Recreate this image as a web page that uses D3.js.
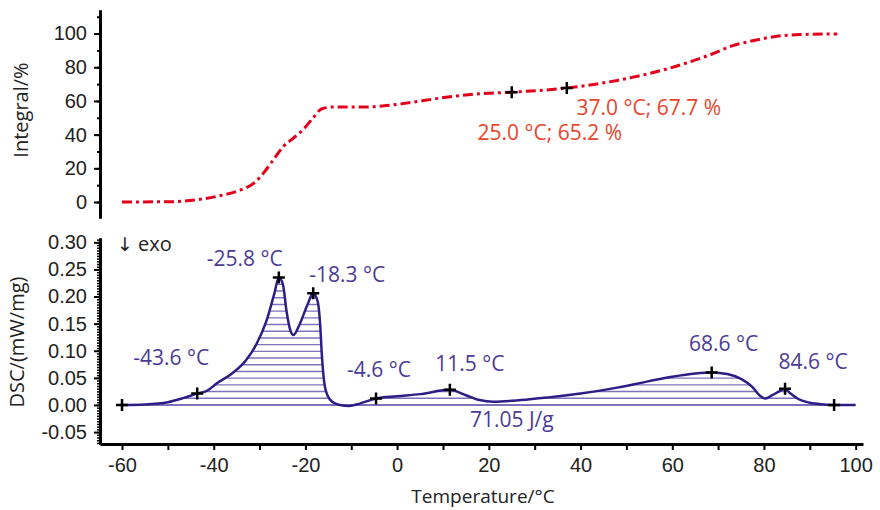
<!DOCTYPE html>
<html>
<head>
<meta charset="utf-8">
<script src="https://cdn.jsdelivr.net/npm/d3@7"></script>
<style>
  html, body { margin: 0; padding: 0; background: #fff; }
  svg { display: block; font-family: "Open Sans", "Noto Sans", sans-serif; }
</style>
</head>
<body>
<svg id="chart" width="880" height="510"></svg>
<script>
// ---------------- DATA ----------------
const intTemps = [-60, -48.8, -43, -37.9, -34.2, -31.3, -29.2, -27, -24.8, -22.6, -20.5, -18.3, -16.5, -13.9, -8, -5, 2, 9.4, 18, 25, 37, 48, 58.8, 68.3, 73.4, 77, 82.8, 88, 96];
const intValues = [0, 0.2, 1.6, 4.2, 7.1, 11.1, 17, 25, 33, 38, 43, 50, 55.2, 56.4, 56.4, 56.6, 58.7, 61.7, 64.3, 65.2, 67.7, 72.2, 79, 87.5, 93, 95.4, 98.4, 99.4, 99.8];

const dscTemps = [-60, -55, -50, -46.5, -43.6, -41.5, -39.3, -36, -33, -30.7, -28.5, -26.8, -25.8, -24.9, -24.1, -23.3, -22.6, -21.3, -19.6, -18.3, -17.3, -16.8, -16.4, -15.9, -15.1, -14, -12.5, -10.5, -8, -4.6, 0, 5, 11.5, 15, 18, 21, 27, 33, 40, 48, 55, 60, 65, 68.6, 72, 75, 77.5, 79, 80.3, 81.8, 83.5, 84.6, 85.8, 87.5, 90, 93, 95.3, 100];
const dscValues = [0, 0.001, 0.005, 0.013, 0.021, 0.026, 0.040, 0.058, 0.082, 0.112, 0.155, 0.205, 0.235, 0.222, 0.172, 0.138, 0.129, 0.148, 0.184, 0.206, 0.190, 0.150, 0.090, 0.042, 0.016, 0.005, 0.000, -0.002, 0.003, 0.012, 0.016, 0.020, 0.028, 0.018, 0.009, 0.006, 0.009, 0.014, 0.021, 0.032, 0.044, 0.052, 0.058, 0.060, 0.057, 0.048, 0.033, 0.018, 0.012, 0.018, 0.026, 0.030, 0.021, 0.011, 0.004, 0.001, 0, 0];

const dscMarkTemps = [-60, -43.6, -25.8, -18.3, -4.6, 11.5, 68.6, 84.6, 95.3];
const dscMarkValues = [0, 0.021, 0.235, 0.206, 0.012, 0.028, 0.060, 0.030, 0];
const dscLabelTexts = [null, "-43.6 °C", "-25.8 °C", "-18.3 °C", "-4.6 °C", "11.5 °C", "68.6 °C", "84.6 °C", null];

const intMarkTemps = [25.0, 37.0];
const intMarkValues = [65.2, 67.7];
const intLabelTexts = ["25.0 °C; 65.2 %", "37.0 °C; 67.7 %"];

const peakAreaLabel = "71.05 J/g";
const peakAreaStart = -60, peakAreaEnd = 95.3;

const xTickValues = [-60, -50, -40, -30, -20, -10, 0, 10, 20, 30, 40, 50, 60, 70, 80, 90, 100];
const xTickLabels = ["-60", "", "-40", "", "-20", "", "0", "", "20", "", "40", "", "60", "", "80", "", "100"];
const intTickValues = [0, 20, 40, 60, 80, 100];
const intTickLabels = ["0", "20", "40", "60", "80", "100"];
const dscTickValues = [-0.05, 0, 0.05, 0.10, 0.15, 0.20, 0.25, 0.30];
const dscTickLabels = ["-0.05", "0.00", "0.05", "0.10", "0.15", "0.20", "0.25", "0.30"];

// ---------------- LAYOUT ----------------
const svg = d3.select("#chart");
const axisX = 100;
const plotRight = 863;
const purple = "#2f1d86";
const purpleText = "#4b3b95";
const hatch = "#7f74bb";
const red = "#e3001b";
const redText = "#e8452c";
const ink = "#222";

const x = d3.scaleLinear().domain([-64.8, 101.6]).range([axisX, plotRight]);
const yInt = d3.scaleLinear().domain([-9.5, 114]).range([218, 10]);
const yDsc = d3.scaleLinear().domain([-0.072, 0.308]).range([444, 238]);

function styleAxis(g) {
  g.select(".domain").attr("stroke", "#000").attr("stroke-width", 3);
  g.selectAll(".tick line").attr("stroke", "#000").attr("stroke-width", 2);
  g.selectAll(".tick text").attr("fill", ink).style("font-size", "20px");
}

// ---- Top panel: Integral ----
const gIntAxis = svg.append("g").attr("transform", `translate(${axisX},0)`);
gIntAxis.call(d3.axisLeft(yInt).tickValues(d3.range(-0, 111, 10)).tickSize(3).tickFormat("").tickSizeOuter(0));
gIntAxis.call(styleAxis);
const gIntMajor = svg.append("g").attr("transform", `translate(${axisX},0)`);
gIntMajor.call(d3.axisLeft(yInt).tickValues(intTickValues).tickSize(6).tickPadding(7)
  .tickFormat((d, i) => intTickLabels[i]).tickSizeOuter(0));
gIntMajor.call(styleAxis);

const intData = intTemps.map((t, i) => [t, intValues[i]]);
const intLine = d3.line().x(d => x(d[0])).y(d => yInt(d[1])).curve(d3.curveMonotoneX);
svg.append("path").datum(intData).attr("d", intLine)
  .attr("fill", "none").attr("stroke", red).attr("stroke-width", 3)
  .attr("stroke-dasharray", "10,4,3,4");

svg.append("text").attr("transform", `translate(28,110) rotate(-90)`)
  .attr("text-anchor", "middle").attr("fill", ink).style("font-size", "20px").text("Integral/%");

// ---- Bottom panel: DSC ----
const gDscMinor = svg.append("g").attr("transform", `translate(${axisX},0)`);
gDscMinor.call(d3.axisLeft(yDsc).tickValues(d3.range(-0.07, 0.3051, 0.005)).tickSize(3).tickFormat("").tickSizeOuter(0));
gDscMinor.call(styleAxis);
gDscMinor.selectAll(".tick line").attr("stroke-width", 1.5);
const gDscMajor = svg.append("g").attr("transform", `translate(${axisX},0)`);
gDscMajor.call(d3.axisLeft(yDsc).tickValues(dscTickValues).tickSize(6).tickPadding(7)
  .tickFormat((d, i) => dscTickLabels[i]).tickSizeOuter(0));
gDscMajor.call(styleAxis);

const gX = svg.append("g").attr("transform", `translate(0,${yDsc.range()[0]})`);
gX.call(d3.axisBottom(x).tickValues(xTickValues).tickSize(6).tickPadding(8)
  .tickFormat((d, i) => xTickLabels[i]).tickSizeOuter(0));
gX.call(styleAxis);

svg.append("text").attr("transform", `translate(24,342) rotate(-90)`)
  .attr("text-anchor", "middle").attr("fill", ink).style("font-size", "20px").text("DSC/(mW/mg)");
svg.append("text").attr("x", 483).attr("y", 503)
  .attr("text-anchor", "middle").attr("fill", ink).style("font-size", "19px").text("Temperature/°C");

const exo = svg.append("text").attr("x", 117).attr("y", 251).attr("fill", ink).style("font-size", "20px");
exo.append("tspan").style("font-family", "DejaVu Sans").style("font-size", "19px").text("↓");
exo.append("tspan").text(" exo");

const dscData = dscTemps.map((t, i) => [t, dscValues[i]]);
const areaData = dscData.filter(d => d[0] >= peakAreaStart && d[0] <= peakAreaEnd);
const dscArea = d3.area().x(d => x(d[0])).y0(yDsc(0)).y1(d => yDsc(d[1])).curve(d3.curveMonotoneX);
svg.append("clipPath").attr("id", "peakClip").append("path").datum(areaData).attr("d", dscArea);

const hatchG = svg.append("g").attr("clip-path", "url(#peakClip)");
const base = yDsc(0);
const hatchYs = d3.range(0, 30).map(k => base - 6.7 * k);
hatchG.selectAll("line").data(hatchYs).join("line")
  .attr("x1", x(peakAreaStart)).attr("x2", x(peakAreaEnd))
  .attr("y1", d => d).attr("y2", d => d)
  .attr("stroke", hatch).attr("stroke-width", 1.4);
svg.append("line").attr("x1", x(peakAreaStart)).attr("x2", x(peakAreaEnd))
  .attr("y1", base).attr("y2", base).attr("stroke", hatch).attr("stroke-width", 2);

const dscLine = d3.line().x(d => x(d[0])).y(d => yDsc(d[1])).curve(d3.curveMonotoneX);
svg.append("path").datum(dscData).attr("d", dscLine)
  .attr("fill", "none").attr("stroke", purple).attr("stroke-width", 2.5);

// markers
function cross(px, py) {
  svg.append("path").attr("d", `M${px - 6},${py}H${px + 6}M${px},${py - 6}V${py + 6}`)
    .attr("stroke", "#000").attr("stroke-width", 2.5).attr("fill", "none");
}
dscMarkTemps.forEach((t, i) => cross(x(t), yDsc(dscMarkValues[i])));
intMarkTemps.forEach((t, i) => cross(x(t), yInt(intMarkValues[i])));

// DSC annotations (pixel offsets from marker)
const dscLabelOffsets = [null, [-26, -29], [-34, -12], [34, -11], [3, -21], [20, -19], [12, -21], [28, -20], null];
dscLabelTexts.forEach((txt, i) => {
  if (!txt) return;
  const o = dscLabelOffsets[i];
  svg.append("text").attr("x", x(dscMarkTemps[i]) + o[0]).attr("y", yDsc(dscMarkValues[i]) + o[1])
    .attr("text-anchor", "middle").attr("fill", purpleText).style("font-size", "21px").text(txt);
});
svg.append("text").attr("x", x(25)).attr("y", base + 22)
  .attr("text-anchor", "middle").attr("fill", purpleText).style("font-size", "21px").text(peakAreaLabel);

const intLabelOffsets = [[38, 48], [82, 27]];
intLabelTexts.forEach((txt, i) => {
  const o = intLabelOffsets[i];
  svg.append("text").attr("x", x(intMarkTemps[i]) + o[0]).attr("y", yInt(intMarkValues[i]) + o[1])
    .attr("text-anchor", "middle").attr("fill", redText).style("font-size", "21px").text(txt);
});
</script>
</body>
</html>
